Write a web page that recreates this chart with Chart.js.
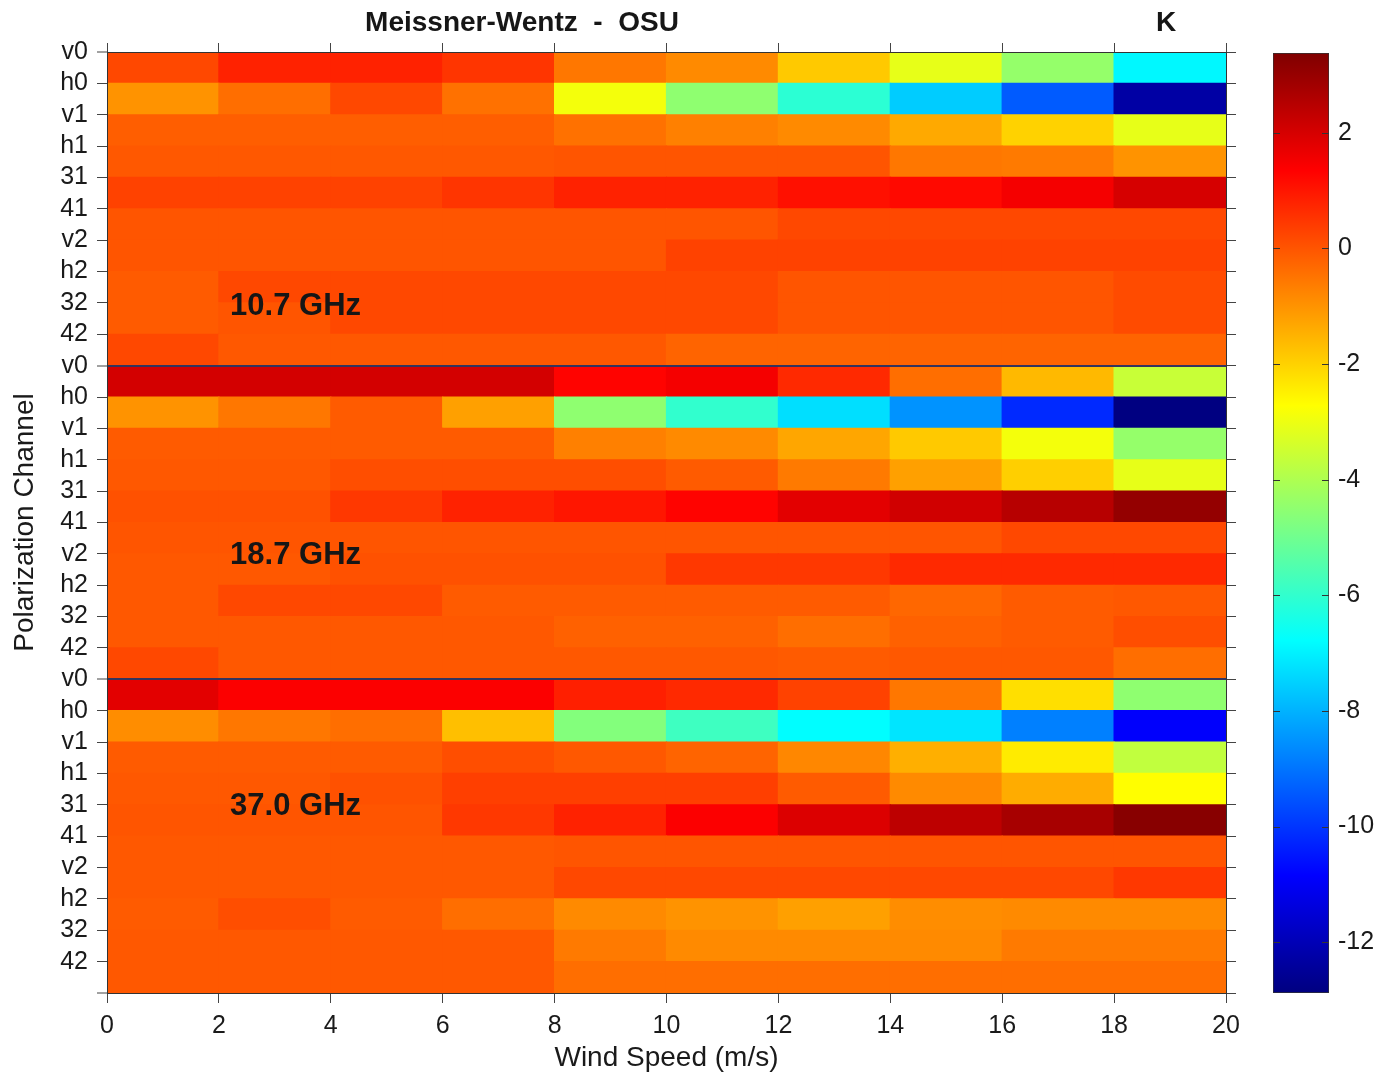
<!DOCTYPE html>
<html>
<head>
<meta charset="utf-8">
<script src="https://cdn.jsdelivr.net/npm/chart.js@4.4.1/dist/chart.umd.min.js"></script>
<style>
html,body{margin:0;padding:0;background:#fff;}
#wrap{position:relative;width:1383px;height:1078px;overflow:hidden;background:#fff;}
#main{position:absolute;left:0;top:0;}
#cbar{position:absolute;left:1250px;top:0;}
.lbl{position:absolute;font-family:"Liberation Sans",Arial,sans-serif;font-weight:bold;color:#161616;white-space:pre;transform:translate(-50%,-50%);line-height:1;}
</style>
</head>
<body>
<div id="wrap">
  <canvas id="main" width="1383" height="1078"></canvas>
  <canvas id="cbar" width="133" height="1078"></canvas>
  <div class="lbl" style="left:522px;top:22px;font-size:28px">Meissner-Wentz  -  OSU</div>
  <div class="lbl" style="left:1166px;top:22px;font-size:28px">K</div>
</div>
<script>
// ---------------- data ----------------
const windEdges = [0, 2, 4, 6, 8, 10, 12, 14, 16, 18, 20];
const channels = ['v0', 'h0', 'v1', 'h1', '31', '41', 'v2', 'h2', '32', '42'];
const frequencies = ['10.7 GHz', '18.7 GHz', '37.0 GHz'];

// brightness-temperature difference (K), rows = channels, cols = wind-speed bins
const diff107 = [
  [ 0.20,  0.80,  0.80,  0.50, -0.55, -0.85, -1.85, -3.10, -4.40, -6.90],
  [-1.00, -0.40,  0.20, -0.45, -2.90, -4.50, -6.10, -7.60, -9.40, -12.30],
  [-0.15, -0.15, -0.15, -0.15, -0.45, -0.70, -0.85, -1.35, -2.00, -3.10],
  [-0.05, -0.05, -0.05, -0.05,  0.00,  0.00,  0.00, -0.55, -0.60, -1.00],
  [ 0.30,  0.30,  0.30,  0.50,  0.80,  0.80,  1.10,  1.20,  1.50,  2.00],
  [ 0.00,  0.00,  0.00,  0.00,  0.00,  0.00,  0.20,  0.20,  0.20,  0.20],
  [ 0.00,  0.00,  0.00,  0.00,  0.00,  0.30,  0.30,  0.30,  0.30,  0.30],
  [-0.10,  0.20,  0.20,  0.20,  0.20,  0.20,  0.00,  0.00,  0.00,  0.15],
  [-0.10,  0.00,  0.20,  0.20,  0.20,  0.20,  0.00,  0.00,  0.00,  0.15],
  [ 0.20, -0.05, -0.05, -0.05, -0.05, -0.25, -0.25, -0.25, -0.25, -0.25]
];
const diff187 = [
  [ 2.05,  2.05,  2.05,  2.05,  1.30,  1.50,  0.70, -0.40, -1.60, -3.60],
  [-1.00, -0.55, -0.10, -1.20, -4.50, -6.00, -7.30, -8.50, -10.20, -12.85],
  [-0.10, -0.10, -0.10, -0.10, -0.70, -0.85, -1.30, -1.85, -2.90, -4.40],
  [-0.05, -0.05,  0.10,  0.10,  0.10, -0.10, -0.60, -1.20, -1.95, -3.10],
  [ 0.05,  0.05,  0.45,  0.80,  1.00,  1.30,  1.80,  2.10,  2.50,  3.05],
  [ 0.00,  0.00,  0.00,  0.00,  0.00,  0.00,  0.00,  0.00,  0.20,  0.20],
  [-0.05, -0.05,  0.05,  0.05,  0.05,  0.45,  0.45,  0.70,  0.70,  0.70],
  [-0.05,  0.20,  0.20, -0.10, -0.10, -0.10, -0.10, -0.30, -0.10, -0.05],
  [-0.05, -0.05, -0.05, -0.05, -0.20, -0.20, -0.40, -0.20, -0.10,  0.10],
  [ 0.20, -0.05, -0.05, -0.05, -0.05, -0.05, -0.10, -0.05, -0.05, -0.40]
];
const diff370 = [
  [ 1.80,  1.40,  1.40,  1.40,  0.85,  0.70,  0.30, -0.55, -2.20, -4.50],
  [-0.90, -0.55, -0.40, -1.70, -4.70, -5.80, -6.80, -7.20, -8.80, -10.90],
  [-0.10, -0.10, -0.10,  0.10, -0.05, -0.25, -0.80, -1.45, -2.40, -3.70],
  [-0.05, -0.05,  0.05,  0.35,  0.35,  0.35, -0.10, -0.85, -1.40, -2.70],
  [ 0.00,  0.00,  0.00,  0.45,  0.80,  1.40,  1.90,  2.40,  2.75,  3.25],
  [-0.05, -0.05, -0.05, -0.05,  0.00,  0.00,  0.00,  0.00,  0.00,  0.00],
  [-0.05, -0.05, -0.05, -0.05,  0.20,  0.20,  0.20,  0.20,  0.20,  0.45],
  [-0.10,  0.10, -0.10, -0.40, -0.85, -1.00, -1.20, -0.90, -0.85, -0.85],
  [-0.05, -0.05, -0.05, -0.05, -0.60, -0.85, -0.85, -0.85, -0.60, -0.60],
  [-0.05, -0.05, -0.05, -0.05, -0.40, -0.40, -0.40, -0.40, -0.40, -0.40]
];
const colorbarTicks = [2, 0, -2, -4, -6, -8, -10, -12];
const colorMin = -12.88;
const colorMax = 3.38;
// where the frequency annotations sit (wind speed, row index)
const freqLabelX = 2.2;
const freqLabelRows = [8.1, 16.05, 24.05];

// ---------------- helpers ----------------
const FONT = '"Liberation Sans", Arial, sans-serif';
Chart.defaults.font.family = FONT;
Chart.defaults.color = '#1a1a1a';

function clamp01(a) { return Math.max(0, Math.min(1, a)); }
function jetT(t) {
  t = clamp01(t);
  const r = clamp01(Math.min(4 * t - 1.5, -4 * t + 4.5));
  const g = clamp01(Math.min(4 * t - 0.5, -4 * t + 3.5));
  const b = clamp01(Math.min(4 * t + 0.5, -4 * t + 2.5));
  return 'rgb(' + Math.round(r * 255) + ',' + Math.round(g * 255) + ',' + Math.round(b * 255) + ')';
}
function jet(v) { return jetT((v - colorMin) / (colorMax - colorMin)); }

const groups = [diff107, diff187, diff370];
const cells = [];
groups.forEach((grid, gi) => {
  grid.forEach((row, ri) => {
    row.forEach((v, ci) => {
      cells.push({ y: gi * channels.length + ri + 0.5, x: [windEdges[ci], windEdges[ci + 1]], v: v });
    });
  });
});
const nRows = groups.length * channels.length;

const freqLabelPlugin = {
  id: 'freqLabels',
  afterDatasetsDraw(chart) {
    const { ctx, scales } = chart;
    ctx.save();
    ctx.font = 'bold 31px ' + FONT;
    ctx.fillStyle = '#161616';
    ctx.textAlign = 'left';
    ctx.textBaseline = 'middle';
    frequencies.forEach((f, i) => {
      ctx.fillText(f, scales.x.getPixelForValue(freqLabelX), scales.y.getPixelForValue(freqLabelRows[i]));
    });
    ctx.restore();
  }
};

const tickFont = { size: 25 };
const axisBorder = { display: true, color: '#333', width: 1, z: 1 };
function noPad(s) { s.paddingTop = 0; s.paddingBottom = 0; s.paddingLeft = 0; s.paddingRight = 0; }

new Chart(document.getElementById('main'), {
  type: 'bar',
  data: {
    datasets: [{
      data: cells,
      backgroundColor: (ctx) => (ctx.raw ? jet(ctx.raw.v) : '#fff'),
      borderWidth: 0,
      inflateAmount: 0.6,
      barPercentage: 1,
      categoryPercentage: 1,
      xAxisID: 'x',
      yAxisID: 'y'
    }]
  },
  options: {
    indexAxis: 'y',
    responsive: false,
    animation: false,
    events: [],
    layout: { padding: { left: 0, top: 42, right: 147, bottom: 0 } },
    plugins: { legend: { display: false }, tooltip: { enabled: false } },
    scales: {
      x: {
        type: 'linear', position: 'bottom', min: 0, max: 20, offset: false,
        ticks: { stepSize: 2, font: tickFont, color: '#1a1a1a', padding: 8, z: 1 },
        grid: { drawOnChartArea: false, offset: false, tickLength: 10, tickColor: '#444', z: 1 },
        border: axisBorder,
        title: { display: true, text: 'Wind Speed (m/s)', font: { size: 28 }, color: '#1a1a1a', padding: { top: 0, bottom: 3 } },
        afterFit: (s) => { s.height = 85; noPad(s); }
      },
      xTop: {
        type: 'linear', position: 'top', min: 0, max: 20, offset: false,
        ticks: { display: false, stepSize: 2 },
        grid: { drawOnChartArea: false, offset: false, tickLength: 9, tickColor: '#444', z: 1 },
        border: axisBorder,
        afterFit: (s) => { s.height = 10; noPad(s); }
      },
      y: {
        type: 'linear', position: 'left', min: 0, max: nRows, reverse: true, offset: false,
        ticks: {
          stepSize: 1, autoSkip: false, font: tickFont, color: '#1a1a1a', padding: 9, z: 1,
          callback: (v) => (v < nRows ? channels[v % channels.length] : '')
        },
        grid: {
          drawOnChartArea: true, offset: false, z: 1,
          color: (ctx) => (ctx.tick && ctx.tick.value > 0 && ctx.tick.value < nRows && ctx.tick.value % channels.length === 0) ? '#34345e' : 'rgba(0,0,0,0)',
          lineWidth: (ctx) => (ctx.tick && ctx.tick.value % channels.length === 0) ? 2 : 1,
          tickColor: '#444', tickWidth: 1, tickLength: 10
        },
        border: axisBorder,
        title: { display: true, text: 'Polarization Channel', font: { size: 28 }, color: '#1a1a1a', padding: { top: 8, bottom: 0 } },
        afterFit: (s) => { s.width = 107; noPad(s); }
      },
      yRight: {
        type: 'linear', position: 'right', min: 0, max: nRows, reverse: true, offset: false,
        ticks: { display: false, stepSize: 1, autoSkip: false },
        grid: { drawOnChartArea: false, offset: false, tickLength: 10, tickColor: '#444', z: 1 },
        border: axisBorder,
        afterFit: (s) => { s.width = 10; noPad(s); }
      }
    }
  },
  plugins: [freqLabelPlugin]
});

// ---------------- colour bar ----------------
const cbTickPlugin = {
  id: 'cbTicks',
  afterDatasetsDraw(chart) {
    const { ctx, chartArea, scales } = chart;
    ctx.save();
    ctx.strokeStyle = '#333';
    ctx.lineWidth = 1;
    colorbarTicks.forEach((v) => {
      const py = Math.round(scales.y.getPixelForValue(v)) + 0.5;
      ctx.beginPath();
      ctx.moveTo(chartArea.left, py); ctx.lineTo(chartArea.left + 7, py);
      ctx.moveTo(chartArea.right - 7, py); ctx.lineTo(chartArea.right, py);
      ctx.stroke();
    });
    ctx.restore();
  }
};

new Chart(document.getElementById('cbar'), {
  type: 'bar',
  data: {
    labels: ['K'],
    datasets: [{
      data: [[colorMin, colorMax]],
      backgroundColor: (ctx) => {
        const chart = ctx.chart;
        if (!chart.chartArea) return null;
        const ys = chart.scales.y;
        const g = chart.ctx.createLinearGradient(0, ys.getPixelForValue(colorMin), 0, ys.getPixelForValue(colorMax));
        for (let i = 0; i <= 32; i++) { g.addColorStop(i / 32, jetT(i / 32)); }
        return g;
      },
      borderColor: '#333',
      borderWidth: 1,
      borderSkipped: false,
      barPercentage: 1,
      categoryPercentage: 1
    }]
  },
  options: {
    responsive: false,
    animation: false,
    events: [],
    layout: { padding: { left: 23, top: 53, right: 0, bottom: 85 } },
    plugins: { legend: { display: false }, tooltip: { enabled: false } },
    scales: {
      x: { display: false },
      y: {
        position: 'right', min: colorMin, max: colorMax,
        afterBuildTicks: (s) => { s.ticks = colorbarTicks.map((v) => ({ value: v })); },
        ticks: { font: tickFont, color: '#1a1a1a', padding: 9 },
        grid: { display: false, drawTicks: false },
        border: { display: false },
        afterFit: (s) => { s.width = 54; noPad(s); }
      }
    }
  },
  plugins: [cbTickPlugin]
});
</script>
</body>
</html>
